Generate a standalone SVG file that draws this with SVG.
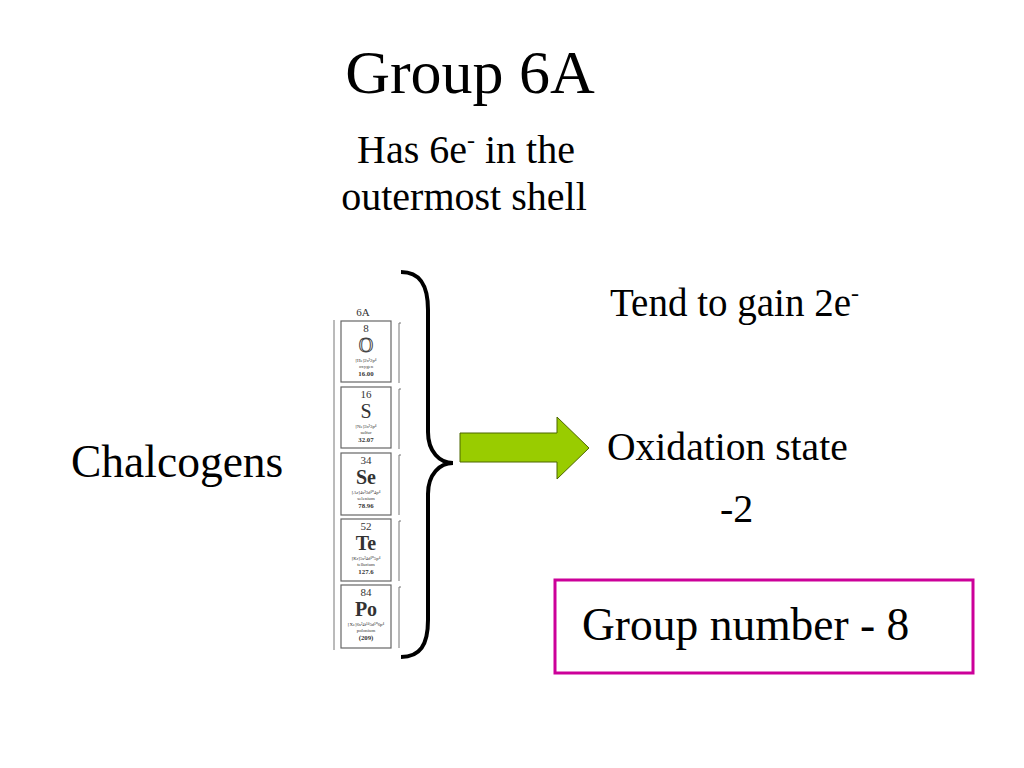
<svg xmlns="http://www.w3.org/2000/svg" width="1024" height="768" viewBox="0 0 1024 768">
<style>
text{font-family:"Liberation Serif","Times New Roman",serif;fill:#000}
.cell{fill:#fff;stroke:#666;stroke-width:1.2}
.ct{fill:#333;text-anchor:middle}
.num{font-size:11px}
.sym{font-size:20px}
.cfg{font-size:4.8px}
.nm{font-size:4.8px}
.ms{font-size:6.8px;font-weight:bold}
.side{fill:none;stroke:#777;stroke-width:1}
</style>
<rect width="1024" height="768" fill="#fff"/>
<g id="title"><text x="470" y="93" font-size="62" text-anchor="middle">Group 6A</text></g>
<g id="subtitle">
<text x="466" y="163" font-size="40" text-anchor="middle">Has 6e<tspan dy="-15" font-size="24">-</tspan><tspan dy="15"> in the</tspan></text>
<text x="464" y="210" font-size="40" text-anchor="middle">outermost shell</text>
</g>
<g id="chalcogens"><text x="71" y="477" font-size="45.5">Chalcogens</text></g>
<g id="table">
<text x="363" y="316" font-size="11" class="ct">6A</text>
<line x1="334" y1="320" x2="334" y2="650" class="side"/>
<path class="side" d="M401,323 L399,323 L399,383 M401,389 L399,389 L399,449 M401,455 L399,455 L399,515 M401,521 L399,521 L399,581 M401,587 L399,587 L399,648"/>
<g id="cell-O">
<rect class="cell" x="341" y="321" width="50" height="61"/>
<text class="ct num" x="366" y="332">8</text>
<text class="ct sym" x="366" y="352" style="fill:#fff;stroke:#444;stroke-width:1">O</text>
<text class="ct cfg" x="366" y="361.5">[He]2s²2p⁴</text>
<text class="ct nm" x="366" y="367.5">oxygen</text>
<text class="ct ms" x="366" y="375.5">16.00</text>
</g>
<g id="cell-S">
<rect class="cell" x="341" y="387" width="50" height="61"/>
<text class="ct num" x="366" y="398">16</text>
<text class="ct sym" x="366" y="418">S</text>
<text class="ct cfg" x="366" y="427.5">[Ne]3s²3p⁴</text>
<text class="ct nm" x="366" y="433.5">sulfur</text>
<text class="ct ms" x="366" y="441.5">32.07</text>
</g>
<g id="cell-Se">
<rect class="cell" x="341" y="453" width="50" height="62"/>
<text class="ct num" x="366" y="464">34</text>
<text class="ct sym" x="366" y="484" font-weight="bold">Se</text>
<text class="ct cfg" x="366" y="493.5">[Ar]4s²3d¹⁰4p⁴</text>
<text class="ct nm" x="366" y="499.5">selenium</text>
<text class="ct ms" x="366" y="507.5">78.96</text>
</g>
<g id="cell-Te">
<rect class="cell" x="341" y="519" width="50" height="62"/>
<text class="ct num" x="366" y="530">52</text>
<text class="ct sym" x="366" y="550" font-weight="bold">Te</text>
<text class="ct cfg" x="366" y="559.5">[Kr]5s²4d¹⁰5p⁴</text>
<text class="ct nm" x="366" y="565.5">tellurium</text>
<text class="ct ms" x="366" y="573.5">127.6</text>
</g>
<g id="cell-Po">
<rect class="cell" x="341" y="585" width="50" height="63"/>
<text class="ct num" x="366" y="596">84</text>
<text class="ct sym" x="366" y="616" font-weight="bold">Po</text>
<text class="ct cfg" x="366" y="625.5">[Xe]6s²4f¹⁴5d¹⁰6p⁴</text>
<text class="ct nm" x="366" y="631.5">polonium</text>
<text class="ct ms" x="366" y="639.5">(209)</text>
</g>
</g>
<g id="connectors">
<path d="M401,272 C420,272 428,285 428,310 L428,432 C428,452 440,463 453,463 C440,463 428,474 428,494 L428,620 C428,645 420,657 401,657" fill="none" stroke="#000" stroke-width="4"/>
<polygon points="460,433 557,433 557,417 589,448 557,479 557,462 460,462" fill="#99cc00" stroke="#4d6600" stroke-width="1"/>
</g>
<g id="gain"><text x="610" y="316" font-size="39">Tend to gain 2e<tspan dy="-15" font-size="24">-</tspan></text></g>
<g id="oxidation">
<text x="607" y="460" font-size="39.6">Oxidation state</text>
<text x="720" y="522" font-size="40">-2</text>
</g>
<g id="group-number">
<rect x="555" y="580" width="418" height="93" fill="none" stroke="#cc0099" stroke-width="3"/>
<text x="582" y="640" font-size="45.5">Group number - 8</text>
</g>
</svg>
